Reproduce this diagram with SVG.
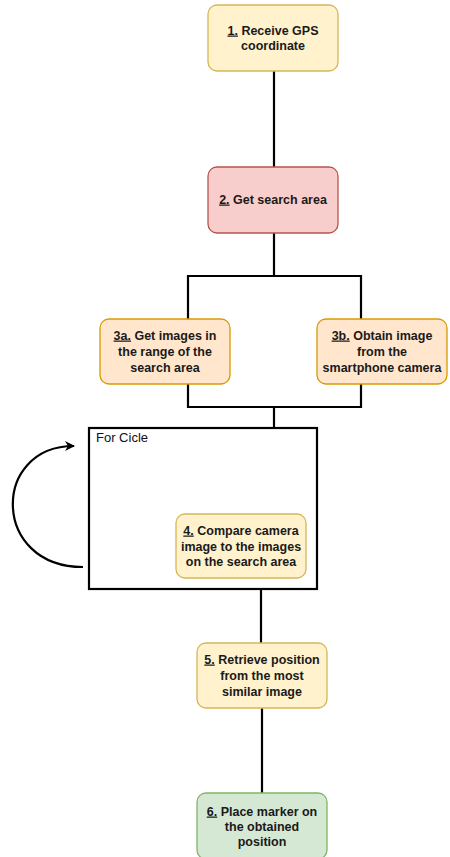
<svg xmlns="http://www.w3.org/2000/svg" width="450" height="857" viewBox="0 0 450 857">
<defs>
<marker id="arr" viewBox="0 0 10 10" refX="9" refY="5" markerWidth="10" markerHeight="10" markerUnits="userSpaceOnUse" orient="auto">
<path d="M0,0 L10,5 L0,10 L3,5 Z" fill="#000"/>
</marker>
</defs>
<style>
.box{stroke-width:1.3}
.y{fill:#fff2cc;stroke:#d6b656}
.r{fill:#f8cecc;stroke:#b85450}
.o{fill:#ffe6cc;stroke:#d79b00}
.g{fill:#d5e8d4;stroke:#82b366}
.t{font-family:"Liberation Sans",Arial,sans-serif;font-weight:bold;font-size:12.5px;fill:#1a1a1a;text-anchor:middle}
.u{text-decoration:underline}
.c{fill:none;stroke:#000;stroke-width:2.2}
</style>
<rect width="450" height="857" fill="#fff"/>
<g id="connectors">
<line class="c" x1="274" y1="71" x2="274" y2="167"/>
<line class="c" x1="274" y1="233" x2="274" y2="276"/>
<polyline class="c" points="188,319 188,276 361,276 361,319"/>
<polyline class="c" points="188,384 188,407 361,407 361,384"/>
<line class="c" x1="274" y1="407" x2="274" y2="428"/>
<line class="c" x1="261" y1="589" x2="261" y2="643"/>
<line class="c" x1="262" y1="708" x2="262" y2="793"/>
<path class="c" d="M83,567 C-9,567 -9,446 74,446" marker-end="url(#arr)"/>
</g>
<g id="loop">
<rect x="89" y="428" width="228" height="161" fill="none" stroke="#000" stroke-width="2.2"/>
<text x="96" y="442" font-family="Liberation Sans,Arial,sans-serif" font-size="13" fill="#0d0d1a">For Cicle</text>
</g>
<g id="n1">
<rect class="box y" x="208" y="5" width="130" height="66" rx="9"/>
<text class="t" x="273" y="34.5"><tspan class="u">1.</tspan> Receive GPS</text>
<text class="t" x="273" y="49.5">coordinate</text>
</g>
<g id="n2">
<rect class="box r" x="208" y="167" width="130" height="66" rx="9"/>
<text class="t" x="273" y="203.5"><tspan class="u">2.</tspan> Get search area</text>
</g>
<g id="n3a">
<rect class="box o" x="100" y="319" width="130" height="65" rx="9"/>
<text class="t" x="165" y="339.5"><tspan class="u">3a.</tspan> Get images in</text>
<text class="t" x="165" y="355.5">the range of the</text>
<text class="t" x="165" y="371.5">search area</text>
</g>
<g id="n3b">
<rect class="box o" x="317" y="319" width="130" height="65" rx="9"/>
<text class="t" x="382" y="339.5"><tspan class="u">3b.</tspan> Obtain image</text>
<text class="t" x="382" y="355.5">from the</text>
<text class="t" x="382" y="371.5">smartphone camera</text>
</g>
<g id="n4">
<rect class="box y" x="176" y="514" width="130" height="64" rx="9"/>
<text class="t" x="241" y="534.5"><tspan class="u">4.</tspan> Compare camera</text>
<text class="t" x="241" y="550.5">image to the images</text>
<text class="t" x="241" y="565.5">on the search area</text>
</g>
<g id="n5">
<rect class="box y" x="197" y="643" width="130" height="65" rx="9"/>
<text class="t" x="262" y="663.5"><tspan class="u">5.</tspan> Retrieve position</text>
<text class="t" x="262" y="679.5">from the most</text>
<text class="t" x="262" y="695.5">similar image</text>
</g>
<g id="n6">
<rect class="box g" x="197" y="793" width="130" height="66" rx="9"/>
<text class="t" x="262" y="815.5"><tspan class="u">6.</tspan> Place marker on</text>
<text class="t" x="262" y="830.5">the obtained</text>
<text class="t" x="262" y="845.5">position</text>
</g>
</svg>
